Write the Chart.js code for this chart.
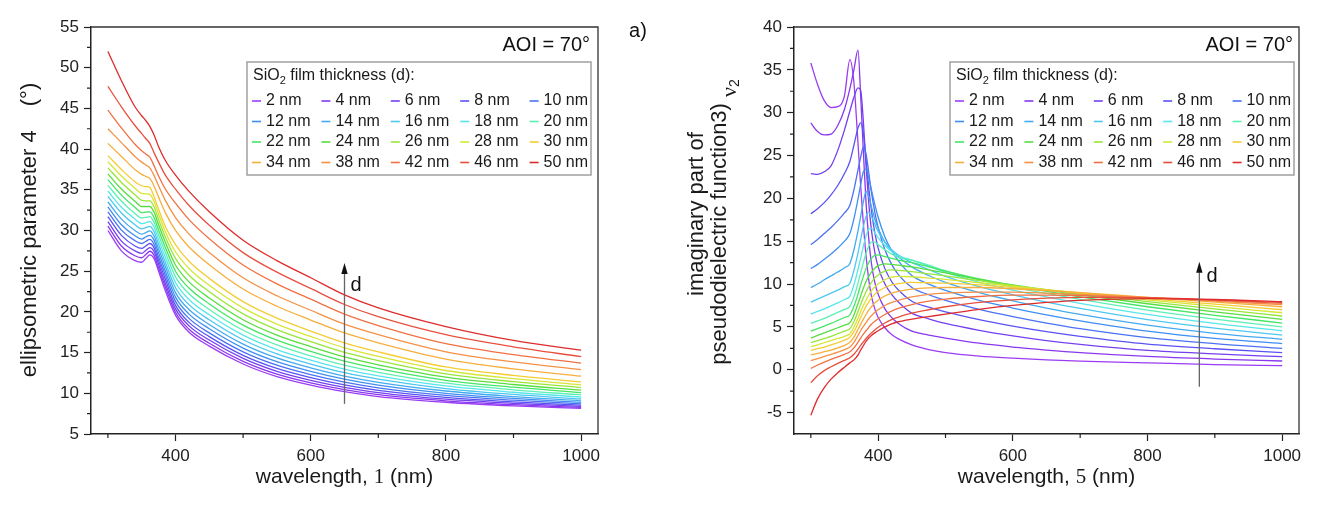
<!DOCTYPE html>
<html>
<head>
<meta charset="utf-8">
<script src="https://cdn.jsdelivr.net/npm/chart.js@4.4.1/dist/chart.umd.min.js"></script>
<style>
  html, body { margin: 0; padding: 0; background: #fff; }
  #wrap { position: relative; width: 1334px; height: 506px; }
  canvas { position: absolute; top: 0; }
  #psiCanvas { left: 0; }
  #epsCanvas { left: 667px; }
</style>
</head>
<body>
<div id="wrap">
  <canvas id="psiCanvas" width="667" height="506"></canvas>
  <canvas id="epsCanvas" width="667" height="506"></canvas>
</div>
<script>
// espesores de la capa de SiO2, una curva por cada uno
const thicknesses = [2, 4, 6, 8, 10, 12, 14, 16, 18, 20, 22, 24, 26, 28, 30, 34, 38, 42, 46, 50];
const thicknessLabels = thicknesses.map(d => d + ' nm');
const lineColors = [
  '#9b3cf5', '#8a38ee', '#7440f0', '#5a52f2', '#4a72f2',
  '#3f8ef2', '#44aaf0', '#4cc8f0', '#58e6ea', '#5cf0b4',
  '#44e664', '#58de40', '#98e63a', '#d6e636', '#f6cc34',
  '#f6ae3c', '#f59046', '#f07044', '#e8503e', '#de2c2c'
];

// ticks
const xTicks = [400, 600, 800, 1000];
const xMinorTicks = [300, 500, 700, 900];
const psiTicks = [5, 10, 15, 20, 25, 30, 35, 40, 45, 50, 55];
const psiMinorTicks = [7.5, 12.5, 17.5, 22.5, 27.5, 32.5, 37.5, 42.5, 47.5, 52.5];
const epsTicks = [-5, 0, 5, 10, 15, 20, 25, 30, 35, 40];
const epsMinorTicks = [-2.5, 2.5, 7.5, 12.5, 17.5, 22.5, 27.5, 32.5, 37.5];

// panel izquierdo: psi (grados)
const psiWavelengths = [300, 320, 340, 350, 356, 362, 368, 375, 385, 400, 420, 450, 500, 550, 600, 650, 700, 800, 900, 1000];
const psiValues = [
  [30.0, 27.5, 26.3, 26.1, 26.55, 27.0, 26.6, 25.0, 22.6, 19.6, 17.5, 15.8, 13.6, 12.05, 11.0, 10.2, 9.6, 8.9, 8.45, 8.15],
  [30.55, 28.1, 26.9, 26.65, 27.05, 27.45, 27.0, 25.4, 23.05, 19.96, 17.86, 16.15, 13.92, 12.35, 11.28, 10.45, 9.83, 9.08, 8.6, 8.27],
  [31.1, 28.7, 27.5, 27.2, 27.55, 27.9, 27.45, 25.85, 23.5, 20.37, 18.28, 16.54, 14.28, 12.69, 11.59, 10.74, 10.09, 9.28, 8.77, 8.4],
  [31.7, 29.4, 28.1, 27.8, 28.1, 28.4, 27.9, 26.3, 24.0, 20.8, 18.71, 16.96, 14.66, 13.05, 11.92, 11.03, 10.36, 9.5, 8.95, 8.54],
  [32.3, 30.05, 28.75, 28.4, 28.65, 28.9, 28.35, 26.75, 24.5, 21.29, 19.2, 17.42, 15.09, 13.45, 12.29, 11.37, 10.67, 9.74, 9.15, 8.7],
  [32.9, 30.7, 29.35, 28.95, 29.2, 29.4, 28.85, 27.25, 25.0, 21.82, 19.73, 17.93, 15.56, 13.89, 12.7, 11.74, 11.01, 10.0, 9.37, 8.88],
  [33.5, 31.4, 30.0, 29.55, 29.75, 29.95, 29.35, 27.75, 25.55, 22.37, 20.29, 18.46, 16.05, 14.34, 13.13, 12.12, 11.35, 10.28, 9.6, 9.08],
  [34.2, 32.15, 30.7, 30.2, 30.35, 30.5, 29.9, 28.3, 26.1, 22.97, 20.89, 19.03, 16.58, 14.84, 13.59, 12.53, 11.74, 10.58, 9.86, 9.3],
  [34.85, 32.85, 31.4, 30.85, 30.95, 31.1, 30.45, 28.85, 26.7, 23.61, 21.53, 19.64, 17.14, 15.37, 14.08, 12.97, 12.14, 10.9, 10.13, 9.54],
  [35.55, 33.6, 32.1, 31.55, 31.6, 31.7, 31.05, 29.45, 27.3, 24.3, 22.22, 20.3, 17.75, 15.94, 14.6, 13.45, 12.58, 11.24, 10.43, 9.8],
  [36.25, 34.35, 32.85, 32.2, 32.25, 32.3, 31.65, 30.05, 27.9, 25.0, 22.93, 20.98, 18.37, 16.52, 15.14, 13.94, 13.02, 11.6, 10.75, 10.08],
  [36.95, 35.1, 33.6, 32.95, 32.95, 32.95, 32.3, 30.7, 28.55, 25.76, 23.69, 21.71, 19.04, 17.15, 15.73, 14.46, 13.5, 11.98, 11.08, 10.38],
  [37.7, 35.9, 34.4, 33.7, 33.65, 33.65, 32.95, 31.35, 29.2, 26.57, 24.51, 22.48, 19.76, 17.82, 16.35, 15.02, 14.01, 12.38, 11.43, 10.7],
  [38.45, 36.7, 35.2, 34.55, 34.5, 34.45, 33.6, 32.0, 29.85, 27.39, 25.34, 23.27, 20.49, 18.5, 16.98, 15.59, 14.54, 12.8, 11.8, 11.04],
  [39.2, 37.5, 36.0, 35.5, 35.4, 35.3, 34.2, 32.6, 30.5, 28.27, 26.22, 24.12, 21.26, 19.23, 17.65, 16.2, 15.09, 13.24, 12.2, 11.4],
  [40.7, 39.1, 37.5, 36.9, 36.65, 36.4, 35.5, 34.1, 32.2, 30.02, 27.98, 25.8, 22.81, 20.69, 19.0, 17.41, 16.2, 14.2, 13.0, 12.1],
  [42.5, 40.8, 39.1, 38.4, 38.05, 37.7, 36.8, 35.5, 33.7, 31.59, 29.56, 27.3, 24.19, 21.98, 20.2, 18.49, 17.2, 15.1, 13.85, 12.9],
  [44.8, 42.6, 40.6, 39.8, 39.4, 39.0, 38.0, 36.7, 35.1, 33.36, 31.34, 29.0, 25.76, 23.45, 21.56, 19.72, 18.32, 16.1, 14.75, 13.7],
  [47.7, 45.2, 42.9, 41.9, 41.3, 40.7, 39.6, 38.4, 36.8, 35.08, 33.07, 30.65, 27.28, 24.88, 22.88, 20.91, 19.41, 17.2, 15.7, 14.5],
  [52.0, 48.4, 45.2, 44.1, 43.5, 42.8, 41.8, 40.3, 38.6, 36.8, 34.8, 32.3, 28.8, 26.3, 24.2, 22.1, 20.5, 18.2, 16.5, 15.3]
];

// panel derecho: parte imaginaria de la pseudo funcion dielectrica
const epsWavelengths = [300, 310, 320, 330, 340, 350, 358, 364, 370, 374, 378, 382, 386, 390, 395, 400, 410, 420, 430, 450, 475, 500, 550, 600, 650, 700, 800, 900, 1000];
const epsValues = [
  [35.8, 33.3, 31.4, 30.6, 30.7, 32.0, 36.2, 33.5, 26.5, 21.5, 17.0, 13.3, 10.5, 8.6, 7.1, 6.1, 4.9, 4.1, 3.6, 2.9, 2.35, 2.0, 1.6, 1.35, 1.15, 1.0, 0.8, 0.6, 0.47],
  [28.8, 27.8, 27.4, 27.5, 28.5, 30.4, 32.8, 35.0, 37.3, 32.0, 25.5, 19.5, 15.3, 12.4, 10.2, 8.8, 7.1, 6.1, 5.4, 4.5, 4.05, 3.7, 3.1, 2.65, 2.3, 2.0, 1.55, 1.25, 1.02],
  [22.9, 22.8, 23.1, 23.8, 25.6, 28.0, 30.2, 31.8, 32.9, 32.6, 29.0, 23.8, 19.5, 16.3, 13.7, 12.0, 10.0, 8.8, 7.9, 6.6, 5.95, 5.4, 4.6, 3.95, 3.4, 2.95, 2.25, 1.85, 1.52],
  [18.2, 18.8, 19.5, 20.4, 21.5, 22.9, 24.3, 26.2, 28.2, 28.8, 27.6, 24.5, 21.3, 18.6, 16.0, 14.2, 11.8, 10.3, 9.3, 8.0, 7.3, 6.75, 5.85, 5.1, 4.45, 3.9, 3.0, 2.45, 2.0],
  [14.6, 15.2, 15.9, 16.6, 17.4, 18.3, 19.2, 21.0, 23.3, 24.8, 26.0, 25.2, 23.0, 20.7, 18.4, 16.6, 14.0, 12.3, 11.1, 9.6, 8.75, 8.1, 7.05, 6.2, 5.45, 4.8, 3.75, 3.05, 2.5],
  [11.8, 12.3, 12.9, 13.5, 14.2, 15.0, 15.9, 17.6, 19.9, 21.6, 23.1, 23.4, 22.4, 21.0, 19.3, 17.8, 15.5, 13.9, 12.7, 11.0, 10.0, 9.25, 8.1, 7.2, 6.4, 5.7, 4.5, 3.65, 3.05],
  [9.6, 10.0, 10.5, 10.95, 11.4, 11.9, 12.4, 14.0, 16.2, 17.9, 19.6, 20.8, 20.2, 19.0, 17.6, 16.5, 14.9, 13.9, 13.2, 12.0, 11.0, 10.2, 9.0, 8.05, 7.2, 6.45, 5.2, 4.25, 3.55],
  [7.9, 8.25, 8.6, 8.95, 9.3, 9.7, 10.1, 11.6, 13.6, 15.2, 16.7, 17.9, 18.4, 17.9, 17.0, 16.1, 14.9, 14.0, 13.4, 12.5, 11.7, 10.9, 9.7, 8.75, 7.9, 7.15, 5.85, 4.85, 4.05],
  [6.5, 6.8, 7.1, 7.45, 7.8, 8.2, 8.6, 9.9, 11.7, 13.0, 14.4, 15.6, 16.4, 16.5, 16.0, 15.4, 14.5, 13.8, 13.3, 12.8, 12.1, 11.35, 10.2, 9.3, 8.5, 7.75, 6.45, 5.4, 4.55],
  [5.4, 5.7, 6.0, 6.35, 6.7, 7.05, 7.4, 8.5, 10.1, 11.3, 12.5, 13.6, 14.4, 14.9, 14.9, 14.6, 14.0, 13.5, 13.1, 12.8, 12.2, 11.55, 10.5, 9.65, 8.9, 8.2, 6.95, 5.9, 5.0],
  [4.5, 4.8, 5.1, 5.4, 5.75, 6.1, 6.4, 7.4, 8.8, 9.9, 10.9, 11.8, 12.5, 13.0, 13.35, 13.4, 13.2, 13.0, 12.8, 12.5, 12.0, 11.5, 10.6, 9.85, 9.15, 8.5, 7.35, 6.35, 5.45],
  [3.7, 4.0, 4.3, 4.6, 4.9, 5.2, 5.5, 6.4, 7.7, 8.6, 9.5, 10.3, 10.9, 11.4, 11.85, 12.15, 12.35, 12.3, 12.2, 12.0, 11.65, 11.3, 10.55, 9.9, 9.3, 8.75, 7.7, 6.75, 5.88],
  [3.15, 3.4, 3.65, 3.9, 4.2, 4.5, 4.8, 5.6, 6.8, 7.6, 8.4, 9.1, 9.7, 10.2, 10.7, 11.05, 11.5, 11.65, 11.6, 11.45, 11.2, 10.95, 10.4, 9.85, 9.35, 8.9, 7.95, 7.1, 6.27],
  [2.7, 2.9, 3.15, 3.4, 3.65, 3.9, 4.2, 4.95, 6.0, 6.8, 7.5, 8.1, 8.7, 9.2, 9.65, 10.0, 10.5, 10.8, 10.9, 10.85, 10.7, 10.55, 10.15, 9.75, 9.35, 8.95, 8.15, 7.4, 6.65],
  [2.25, 2.45, 2.65, 2.9, 3.15, 3.45, 3.8, 4.45, 5.4, 6.1, 6.8, 7.4, 7.9, 8.35, 8.8, 9.15, 9.6, 9.9, 10.05, 10.2, 10.15, 10.1, 9.9, 9.6, 9.3, 9.0, 8.3, 7.65, 7.0],
  [1.75, 1.9, 2.1, 2.3, 2.55, 2.85, 3.2, 3.8, 4.7, 5.3, 5.9, 6.45, 6.95, 7.35, 7.8, 8.1, 8.6, 8.95, 9.15, 9.4, 9.55, 9.6, 9.6, 9.45, 9.25, 9.0, 8.45, 7.9, 7.35],
  [1.05, 1.3, 1.55, 1.8, 2.05, 2.35, 2.65, 3.2, 4.0, 4.55, 5.05, 5.5, 5.95, 6.3, 6.7, 7.0, 7.5, 7.85, 8.1, 8.5, 8.8, 8.95, 9.05, 9.05, 8.95, 8.8, 8.45, 8.0, 7.6],
  [0.15, 0.55, 0.9, 1.2, 1.5, 1.8, 2.1, 2.55, 3.2, 3.7, 4.15, 4.55, 4.95, 5.3, 5.65, 5.95, 6.45, 6.85, 7.15, 7.6, 8.0, 8.25, 8.55, 8.7, 8.7, 8.65, 8.4, 8.1, 7.75],
  [-1.5, -0.7, -0.1, 0.35, 0.75, 1.1, 1.4, 1.8, 2.4, 2.85, 3.25, 3.65, 4.0, 4.3, 4.65, 4.95, 5.45, 5.85, 6.15, 6.6, 7.0, 7.35, 7.85, 8.15, 8.35, 8.45, 8.4, 8.15, 7.85],
  [-5.3, -3.4, -2.1, -1.1, -0.35, 0.3, 0.8, 1.15, 1.7, 2.3, 2.8, 3.3, 3.7, 4.0, 4.3, 4.55, 5.0, 5.35, 5.6, 5.9, 6.2, 6.5, 7.05, 7.5, 7.85, 8.1, 8.3, 8.2, 7.94]
];

const SANS = '"Liberation Sans", Arial, sans-serif';
const SERIF = '"Liberation Serif", "Times New Roman", serif';
Chart.defaults.font.family = SANS;
Chart.defaults.color = '#222';

// texto con trozos de distinta fuente (para los simbolos raros del original)
// cada trozo: [texto, fuente, corrimiento vertical, espacio extra despues]
function drawPieces(ctx, pieces, cx, cy, vertical) {
  ctx.save();
  ctx.translate(cx, cy);
  if (vertical) ctx.rotate(-Math.PI / 2);
  ctx.textBaseline = 'middle';
  ctx.textAlign = 'left';
  ctx.fillStyle = '#1a1a1a';
  let total = 0;
  pieces.forEach(p => { ctx.font = p[1]; total += ctx.measureText(p[0]).width + (p[3] || 0); });
  let x = -total / 2;
  pieces.forEach(p => {
    ctx.font = p[1];
    ctx.fillText(p[0], x, p[2] || 0);
    x += ctx.measureText(p[0]).width + (p[3] || 0);
  });
  ctx.restore();
}

function drawLegend(ctx, chart, box) {
  ctx.save();
  ctx.fillStyle = '#fff';
  ctx.fillRect(box.x, box.y, box.w, box.h);
  ctx.strokeStyle = '#a0a0a0';
  ctx.lineWidth = 1.5;
  ctx.strokeRect(box.x, box.y, box.w, box.h);
  ctx.fillStyle = '#1a1a1a';
  ctx.textBaseline = 'middle';
  ctx.textAlign = 'left';
  let x = box.x + 6;
  const ty = box.y + 14;
  ctx.font = '16px ' + SANS;
  ctx.fillText('SiO', x, ty); x += ctx.measureText('SiO').width;
  ctx.font = '11px ' + SANS;
  ctx.fillText('2', x, ty + 5); x += ctx.measureText('2').width;
  ctx.font = '16px ' + SANS;
  ctx.fillText(' film thickness (d):', x, ty);
  chart.data.datasets.forEach((ds, i) => {
    const col = i % 5, row = Math.floor(i / 5);
    const lx = box.x + 5 + col * box.colW;
    const ly = box.y + box.row0 + row * box.rowH;
    ctx.strokeStyle = ds.borderColor;
    ctx.lineWidth = 1.6;
    ctx.beginPath(); ctx.moveTo(lx, ly); ctx.lineTo(lx + 9, ly); ctx.stroke();
    ctx.fillText(ds.label, lx + 14, ly);
  });
  ctx.restore();
}

const decorPlugin = {
  id: 'decor',
  afterDraw(chart, args, opts) {
    const ctx = chart.ctx;
    const area = chart.chartArea;
    const xs = chart.scales.x, ys = chart.scales.y;
    ctx.save();
    // marco arriba y derecha
    ctx.strokeStyle = '#333';
    ctx.lineWidth = 1.3;
    ctx.beginPath();
    ctx.moveTo(area.left, area.top);
    ctx.lineTo(area.right, area.top);
    ctx.lineTo(area.right, area.bottom);
    ctx.stroke();
    // ticks chicos
    ctx.strokeStyle = '#222';
    ctx.lineWidth = 1.2;
    ctx.beginPath();
    opts.xMinor.forEach(v => {
      const px = xs.getPixelForValue(v);
      ctx.moveTo(px, area.bottom); ctx.lineTo(px, area.bottom + 4);
    });
    opts.yMinor.forEach(v => {
      const py = ys.getPixelForValue(v);
      ctx.moveTo(area.left, py); ctx.lineTo(area.left - 4, py);
    });
    ctx.stroke();

    // titulos de ejes
    drawPieces(ctx, opts.xTitle, (area.left + area.right) / 2, 477, false);
    opts.yTitle.forEach(t => drawPieces(ctx, t.pieces, t.x, t.y, true));

    // flecha d
    const ax = xs.getPixelForValue(opts.arrow.x);
    const ay0 = ys.getPixelForValue(opts.arrow.y0);
    const ay1 = ys.getPixelForValue(opts.arrow.y1);
    ctx.strokeStyle = '#666';
    ctx.lineWidth = 1.3;
    ctx.beginPath(); ctx.moveTo(ax, ay0); ctx.lineTo(ax, ay1 + 8); ctx.stroke();
    ctx.fillStyle = '#111';
    ctx.beginPath();
    ctx.moveTo(ax, ay1); ctx.lineTo(ax - 3.2, ay1 + 11); ctx.lineTo(ax + 3.2, ay1 + 11);
    ctx.closePath(); ctx.fill();
    ctx.font = '20px ' + SANS;
    ctx.textBaseline = 'middle';
    ctx.textAlign = 'center';
    ctx.fillText('d', xs.getPixelForValue(opts.arrow.labelX), ys.getPixelForValue(opts.arrow.labelY));

    // leyenda y AOI
    drawLegend(ctx, chart, opts.legend);
    ctx.fillStyle = '#111';
    ctx.font = '20px ' + SANS;
    ctx.textAlign = 'right';
    ctx.textBaseline = 'middle';
    ctx.fillText('AOI = 70°', opts.legend.x + opts.legend.w - 1, 45.5);

    if (opts.extra) {
      ctx.textAlign = 'center';
      ctx.fillText(opts.extra.text, opts.extra.x, opts.extra.y);
    }
    ctx.restore();
  }
};

function buildDatasets(wavelengths, rows) {
  return rows.map((row, i) => ({
    label: thicknessLabels[i],
    data: wavelengths.map((w, j) => ({ x: w, y: row[j] })),
    borderColor: lineColors[i],
    backgroundColor: lineColors[i],
    borderWidth: 1.3,
    pointRadius: 0,
    fill: false,
    cubicInterpolationMode: 'monotone',
    order: thicknesses.length - i
  }));
}

function buildScales(yMin, yMax, yTicks, yWidth) {
  return {
    x: {
      type: 'linear', min: 275, max: 1025,
      afterBuildTicks: s => { s.ticks = xTicks.map(v => ({ value: v })); },
      afterFit: s => { s.height = 72; },
      grid: { display: true, drawOnChartArea: false, drawTicks: true, tickLength: 7, tickColor: '#222', tickWidth: 1.2 },
      border: { display: true, color: '#222', width: 1.5 },
      ticks: { font: { size: 17 }, padding: 5, maxRotation: 0, autoSkip: false, color: '#222', callback: v => String(v) },
      title: { display: false }
    },
    y: {
      type: 'linear', min: yMin, max: yMax,
      afterBuildTicks: s => { s.ticks = yTicks.map(v => ({ value: v })); },
      afterFit: s => { s.width = yWidth; },
      grid: { display: true, drawOnChartArea: false, drawTicks: true, tickLength: 7, tickColor: '#222', tickWidth: 1.2 },
      border: { display: true, color: '#222', width: 1.5 },
      ticks: { font: { size: 17 }, padding: 5, autoSkip: false, color: '#222', callback: v => String(v) },
      title: { display: false }
    }
  };
}

const sans21 = '21px ' + SANS;
const serif21 = '21px ' + SERIF;
const sans22 = '22px ' + SANS;
const serif22 = '22px ' + SERIF;

// grafico de psi
new Chart(document.getElementById('psiCanvas'), {
  type: 'line',
  data: { datasets: buildDatasets(psiWavelengths, psiValues) },
  options: {
    responsive: false,
    animation: false,
    layout: { padding: { top: 27, right: 69, bottom: 0, left: 0 } },
    scales: buildScales(5, 55, psiTicks, 91),
    plugins: {
      legend: { display: false },
      tooltip: { enabled: false },
      decor: {
        xMinor: xMinorTicks,
        yMinor: psiMinorTicks,
        xTitle: [['wavelength, ', sans21], ['1', serif21], [' (nm)', sans21]],
        yTitle: [{ x: 30, y: 230, pieces: [['ellipsometric parameter ', sans22], ['4', sans22, 0, 24], ['(°)', sans22]] }],
        arrow: { x: 650, y0: 8.7, y1: 26.0, labelX: 667, labelY: 23.3 },
        legend: { x: 247, y: 62, w: 344, h: 113, colW: 69.4, row0: 39, rowH: 20.5 },
        extra: { text: 'a)', x: 638, y: 31 }
      }
    }
  },
  plugins: [decorPlugin]
});

// grafico de eps2
new Chart(document.getElementById('epsCanvas'), {
  type: 'line',
  data: { datasets: buildDatasets(epsWavelengths, epsValues) },
  options: {
    responsive: false,
    animation: false,
    layout: { padding: { top: 27, right: 35, bottom: 0, left: 0 } },
    scales: buildScales(-7.5, 40, epsTicks, 127),
    plugins: {
      legend: { display: false },
      tooltip: { enabled: false },
      decor: {
        xMinor: xMinorTicks,
        yMinor: epsMinorTicks,
        xTitle: [['wavelength, ', sans21], ['5', serif21], [' (nm)', sans21]],
        yTitle: [
          { x: 30, y: 214, pieces: [['imaginary part of', sans22]] },
          { x: 53, y: 222, pieces: [['pseudodielectric function', sans22], ['3)', sans22], [' ', sans22], ['ν', serif22, 10], ['2', '14px ' + SANS, 15]] }
        ],
        arrow: { x: 877, y0: -2.0, y1: 12.6, labelX: 896, labelY: 10.9 },
        legend: { x: 283, y: 62, w: 344, h: 113, colW: 69.4, row0: 39, rowH: 20.5 }
      }
    }
  },
  plugins: [decorPlugin]
});
</script>
</body>
</html>
